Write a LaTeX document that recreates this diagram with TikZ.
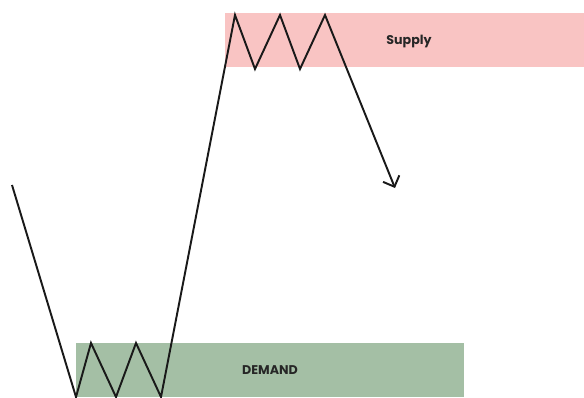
\documentclass[tikz,border=0pt]{standalone}
\usepackage{fontspec}
\setmainfont{Poppins}
\usetikzlibrary{arrows.meta}

\definecolor{supplypink}{HTML}{F9C4C3}
\definecolor{demandgreen}{HTML}{A4BFA5}

\tikzset{
	zone/.style={rectangle,inner sep=0,outer sep=0,font=\fontsize{7.2}{8}\selectfont\bfseries,text=black!85},
	price/.style={line width=1.1pt,line join=miter,black!90},
}

\begin{document}
\begin{tikzpicture}[x=0.02cm,y=-0.02cm]
	\useasboundingbox (0,0) rectangle (584,397);
	\node[zone,fill=supplypink,minimum width=7.18cm,minimum height=1.08cm] (supply) at (404.5,40) {};
	\node[zone] (supplytext) at (409,41) {Supply};
	\node[zone,fill=demandgreen,minimum width=7.76cm,minimum height=1.08cm] (demand) at (270,370) {DEMAND};
	\coordinate (s) at (12,185);
	\coordinate (d1) at (76,397);
	\coordinate (u1) at (91,343);
	\coordinate (d2) at (116,397);
	\coordinate (u2) at (136,343);
	\coordinate (d3) at (161,397);
	\coordinate (t1) at (235,15);
	\coordinate (b1) at (255,69);
	\coordinate (t2) at (280,15);
	\coordinate (b2) at (300,69);
	\coordinate (t3) at (325,15);
	\coordinate (e) at (395,188);
	\draw[price,-{Straight Barb[length=5pt,width=10pt,line width=1.1pt]}] (s) -- (d1) -- (u1) -- (d2) -- (u2) -- (d3) -- (t1) -- (b1) -- (t2) -- (b2) -- (t3) -- (e);
\end{tikzpicture}
\end{document}
